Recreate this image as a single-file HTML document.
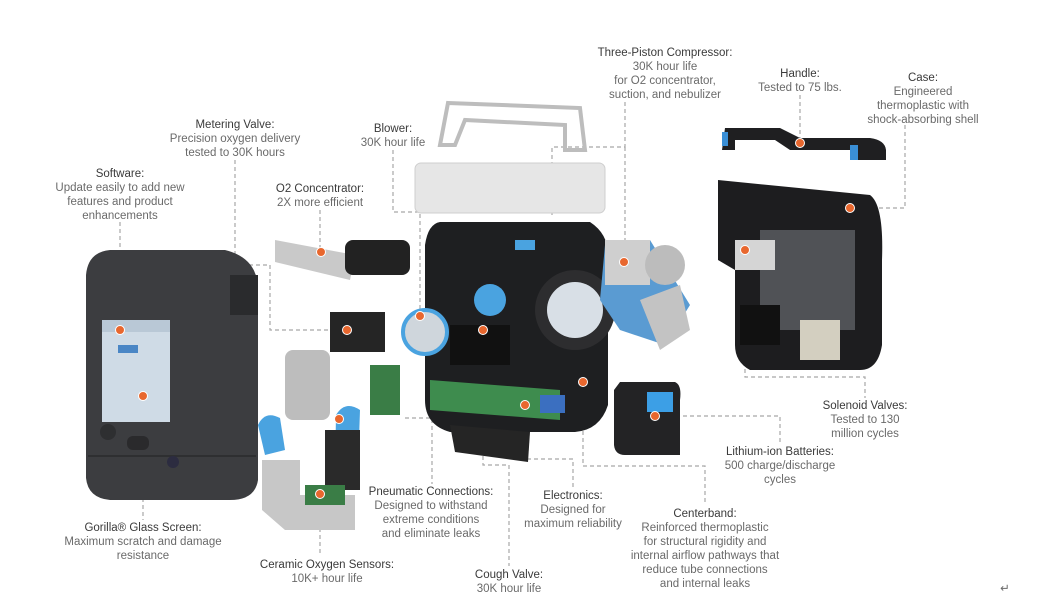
<!DOCTYPE html>
<html><head><meta charset="utf-8"><style>
html,body{margin:0;padding:0;background:#fff;width:1041px;height:600px;overflow:hidden}
svg{display:block}
text{font-family:"Liberation Sans",sans-serif;font-size:11.5px;fill:#6a6a6a;text-anchor:middle}
.h{fill:#3a3a3a}
.d{stroke:#a8a8a8;stroke-width:1.2;stroke-dasharray:4,3;fill:none}
.o{fill:#e8672e;stroke:#fff;stroke-width:1}
</style></head><body>
<svg width="1041" height="600" viewBox="0 0 1041 600">
<g class="d">
<path d="M120 222V330"/><path d="M143 400V520"/>
<path d="M235 160V265H270V330H345"/>
<path d="M320 210V250"/>
<path d="M393 150V212H420V320"/>
<path d="M625 102V147H552V215"/><path d="M625 147V262"/>
<path d="M800 95V142"/><path d="M905 125V208H850"/>
<path d="M745 250V377H865V398"/>
<path d="M655 416H780V444"/>
<path d="M583 382V466H705V505"/>
<path d="M525 405V459H573V488"/>
<path d="M483 330V465H509V566"/>
<path d="M405 418H432V484"/>
<path d="M320 500V556"/>
</g>
<!-- left device -->
<path d="M110 250H225Q258 258 258 290V480Q255 500 230 500H110Q88 498 86 478V275Q88 252 110 250Z" fill="#3c3d40"/>
<rect x="230" y="275" width="28" height="40" fill="#2a2b2d"/>
<rect x="88" y="455" width="168" height="2" fill="#2e2f31"/>
<rect x="102" y="320" width="68" height="102" fill="#cfdbe6"/>
<rect x="102" y="320" width="68" height="12" fill="#b9c8d6"/>
<rect x="118" y="345" width="20" height="8" fill="#4a86c5"/>
<circle cx="108" cy="432" r="8" fill="#2e2f31"/><rect x="127" y="436" width="22" height="14" rx="6" fill="#2a2a2c"/>
<circle cx="173" cy="462" r="6" fill="#2c2c40"/>
<!-- O2 concentrator -->
<path d="M275 240L355 255L350 280L275 262Z" fill="#c9c9c9"/>
<rect x="345" y="240" width="65" height="35" rx="8" fill="#222"/>
<rect x="330" y="312" width="55" height="40" fill="#252525"/>
<rect x="285" y="350" width="45" height="70" rx="8" fill="#bdbdbd"/>
<rect x="370" y="365" width="30" height="50" fill="#3a7d46"/>
<path d="M258 425Q265 410 280 418L285 450L265 455Z" fill="#4aa3e0"/>
<path d="M336 415Q345 400 360 410L358 470L335 470Z" fill="#4aa3e0"/>
<rect x="325" y="430" width="35" height="60" fill="#2a2a2a"/>
<path d="M262 460H300V495H355V530H285L262 510Z" fill="#c7c7c7"/>
<rect x="305" y="485" width="40" height="20" fill="#3a7d46"/>
<!-- blower & bracket -->
<path d="M448 103L580 108L585 150H565V125L465 120L455 145H440Z" fill="none" stroke="#bdbdbd" stroke-width="4"/>
<rect x="415" y="163" width="190" height="50" rx="6" fill="#e6e6e6" stroke="#cfcfcf"/>
<!-- center block -->
<path d="M440 222H590Q610 235 608 260V405Q600 430 575 432H450Q425 425 425 400V245Q428 224 440 222Z" fill="#1e1f21"/>
<circle cx="575" cy="310" r="40" fill="#2d2d2f"/><circle cx="575" cy="310" r="28" fill="#d8dfe6"/>
<circle cx="425" cy="332" r="22" fill="#cfd6dc" stroke="#4aa3e0" stroke-width="4"/>
<circle cx="490" cy="300" r="16" fill="#4aa3e0"/>
<rect x="450" y="325" width="60" height="40" fill="#111"/>
<path d="M430 380L560 390L560 420L430 410Z" fill="#3e8c4e"/>
<rect x="540" y="395" width="25" height="18" fill="#3b6fc0"/>
<path d="M450 425L530 432L528 462L455 452Z" fill="#252525"/>
<rect x="515" y="240" width="20" height="10" fill="#4aa3e0"/>
<!-- compressor -->
<path d="M605 245L650 240L690 305L665 345L620 330L600 300Z" fill="#5a9bd2"/>
<rect x="605" y="240" width="45" height="45" fill="#cfcfcf"/>
<circle cx="665" cy="265" r="20" fill="#bcbcbc"/>
<path d="M640 300L680 285L690 330L660 350Z" fill="#c3c3c3"/>
<!-- handle -->
<path d="M725 128H780L800 138H870Q885 140 886 150V160H850V150H790L775 140H735V150H722Z" fill="#1f1f21"/>
<rect x="850" y="145" width="8" height="15" fill="#3a8fd6"/><rect x="722" y="132" width="6" height="14" fill="#3a8fd6"/>
<!-- case -->
<path d="M718 180L870 195Q884 205 882 260V345Q878 370 860 370H750Q735 362 735 345V270L718 260Z" fill="#1d1d1f"/>
<rect x="760" y="230" width="95" height="100" fill="#505256"/>
<rect x="735" y="240" width="40" height="30" fill="#d5d5d5"/>
<rect x="740" y="305" width="40" height="40" fill="#111"/>
<rect x="800" y="320" width="40" height="40" fill="#d3cfc0"/>
<!-- battery -->
<path d="M620 382H675Q682 385 680 400V455H625Q615 455 614 445V390Z" fill="#232325"/>
<rect x="647" y="392" width="26" height="20" fill="#3c9fe6"/>
<g class="o">
<circle cx="120" cy="330" r="4.5"/><circle cx="143" cy="396" r="4.5"/><circle cx="321" cy="252" r="4.5"/>
<circle cx="347" cy="330" r="4.5"/><circle cx="420" cy="316" r="4.5"/><circle cx="483" cy="330" r="4.5"/>
<circle cx="525" cy="405" r="4.5"/><circle cx="583" cy="382" r="4.5"/><circle cx="624" cy="262" r="4.5"/>
<circle cx="800" cy="143" r="4.5"/><circle cx="850" cy="208" r="4.5"/><circle cx="745" cy="250" r="4.5"/>
<circle cx="655" cy="416" r="4.5"/><circle cx="339" cy="419" r="4.5"/><circle cx="320" cy="494" r="4.5"/>
</g>
<text x="665" y="56" class="h">Three-Piston Compressor:</text><text x="665" y="70">30K hour life</text><text x="665" y="84">for O2 concentrator,</text><text x="665" y="98">suction, and nebulizer</text>
<text x="800" y="77" class="h">Handle:</text><text x="800" y="91">Tested to 75 lbs.</text>
<text x="923" y="81" class="h">Case:</text><text x="923" y="95">Engineered</text><text x="923" y="109">thermoplastic with</text><text x="923" y="123">shock-absorbing shell</text>
<text x="235" y="128" class="h">Metering Valve:</text><text x="235" y="142">Precision oxygen delivery</text><text x="235" y="156">tested to 30K hours</text>
<text x="393" y="132" class="h">Blower:</text><text x="393" y="146">30K hour life</text>
<text x="120" y="177" class="h">Software:</text><text x="120" y="191">Update easily to add new</text><text x="120" y="205">features and product</text><text x="120" y="219">enhancements</text>
<text x="320" y="192" class="h">O2 Concentrator:</text><text x="320" y="206">2X more efficient</text>
<text x="865" y="409" class="h">Solenoid Valves:</text><text x="865" y="423">Tested to 130</text><text x="865" y="437">million cycles</text>
<text x="780" y="455" class="h">Lithium-ion Batteries:</text><text x="780" y="469">500 charge/discharge</text><text x="780" y="483">cycles</text>
<text x="143" y="531" class="h">Gorilla® Glass Screen:</text><text x="143" y="545">Maximum scratch and damage</text><text x="143" y="559">resistance</text>
<text x="431" y="495" class="h">Pneumatic Connections:</text><text x="431" y="509">Designed to withstand</text><text x="431" y="523">extreme conditions</text><text x="431" y="537">and eliminate leaks</text>
<text x="573" y="499" class="h">Electronics:</text><text x="573" y="513">Designed for</text><text x="573" y="527">maximum reliability</text>
<text x="705" y="517" class="h">Centerband:</text><text x="705" y="531">Reinforced thermoplastic</text><text x="705" y="545">for structural rigidity and</text><text x="705" y="559">internal airflow pathways that</text><text x="705" y="573">reduce tube connections</text><text x="705" y="587">and internal leaks</text>
<text x="327" y="568" class="h">Ceramic Oxygen Sensors:</text><text x="327" y="582">10K+ hour life</text>
<text x="509" y="578" class="h">Cough Valve:</text><text x="509" y="592">30K hour life</text>
<text x="1005" y="592">↵</text>
</svg>
</body></html>
